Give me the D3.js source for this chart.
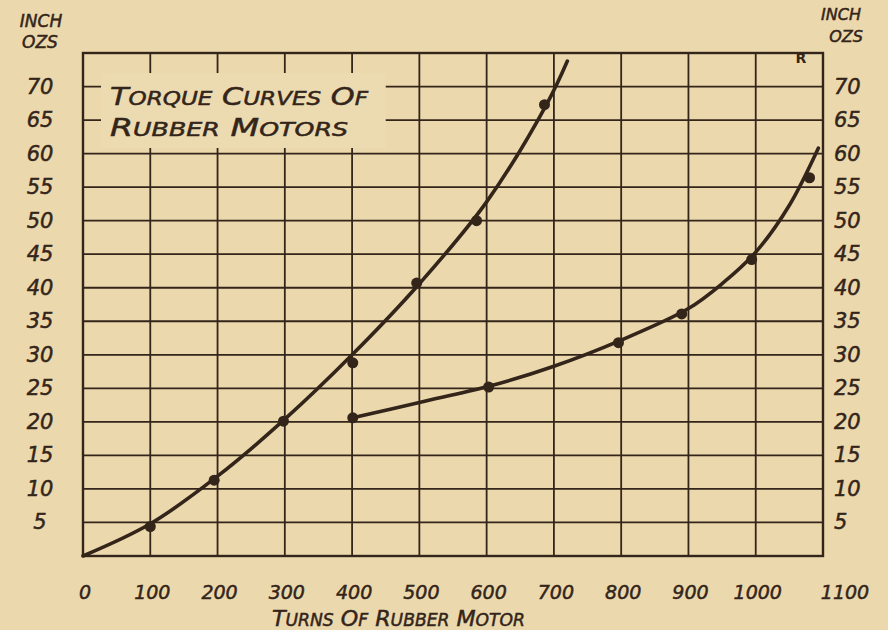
<!DOCTYPE html>
<html><head><meta charset="utf-8">
<script src="https://cdn.jsdelivr.net/npm/d3@7"></script>
<style>
html,body{margin:0;padding:0;background:#ecd8ad;}
svg{display:block;}
text{font-family:"DejaVu Sans",sans-serif;font-style:italic;fill:#33251a;stroke:#33251a;stroke-width:0.5px;}
</style></head>
<body>
<svg id="chart" width="888" height="630"></svg>
<script>
// ---- data ----
const xTicks = [0,100,200,300,400,500,600,700,800,900,1000,1100];
const yTickLabels = [5,10,15,20,25,30,35,40,45,50,55,60,65,70];
const yGrid = [0,5,10,15,20,25,30,35,40,45,50,55,60,65,70,75];
// curve A (left, steeper) measured dots and drawn curve
const curveADots = [[100,4.4],[195,11.3],[298,20.1],[401,28.8],[496,40.7],[585,50.0],[686,67.3]];
const curveALine = [[0,0],[100,4.8],[200,11.9],[300,20.4],[400,30.0],[500,40.6],[600,52.8],[690,67.5],[720,73.8]];
// curve B (right) measured dots and drawn curve
const curveBDots = [[401,20.6],[603,25.2],[796,31.8],[890,36.1],[994,44.2],[1080,56.4]];
const curveBLine = [[401,20.6],[500,22.9],[603,25.3],[700,28.3],[800,32.2],[900,36.9],[950,40.6],[1000,45.3],[1050,52.3],[1093,60.8]];

const svg = d3.select("#chart");
const ink = "#33251a";
const paper = "#ecd8ad";

svg.append("rect").attr("width",888).attr("height",630).attr("fill",paper);

const x = d3.scaleLinear().domain([0,1100]).range([83,823]);
const y = d3.scaleLinear().domain([0,75]).range([556,53]);

const g = svg.append("g");
g.selectAll("line.vx").data(xTicks).enter().append("line")
  .attr("x1",d=>x(d)).attr("x2",d=>x(d)).attr("y1",y(0)).attr("y2",y(75))
  .attr("stroke",ink).attr("stroke-width",1.8);
g.selectAll("line.hy").data(yGrid).enter().append("line")
  .attr("x1",x(0)).attr("x2",x(1100)).attr("y1",d=>y(d)).attr("y2",d=>y(d))
  .attr("stroke",ink).attr("stroke-width",1.8);
g.append("rect").attr("x",x(0)).attr("y",y(75)).attr("width",x(1100)-x(0)).attr("height",y(0)-y(75))
  .attr("fill","none").attr("stroke",ink).attr("stroke-width",2.4);

// title box (blank area)
svg.append("rect").attr("x",101).attr("y",73).attr("width",x(450)-101).attr("height",75)
  .attr("fill","#ecdab1");

function smallCaps(sel, words, big, small){
  words.forEach((w,i)=>{
    sel.append("tspan").attr("font-size",big).text((i>0?" ":"")+w[0]);
    sel.append("tspan").attr("font-size",small).text(w.slice(1));
  });
}
const t1 = svg.append("text").attr("x",110).attr("y",105).attr("textLength",258).attr("lengthAdjust","spacingAndGlyphs");
smallCaps(t1,["TORQUE","CURVES","OF"],25,19);
const t2 = svg.append("text").attr("x",110).attr("y",136).attr("textLength",238).attr("lengthAdjust","spacingAndGlyphs");
smallCaps(t2,["RUBBER","MOTORS"],25,19);
t2.selectAll("tspan").filter((d,i)=>i===2).text("  M");

// curves
const line = d3.line().x(d=>x(d[0])).y(d=>y(d[1])).curve(d3.curveCatmullRom.alpha(0.5));
svg.append("path").datum(curveALine).attr("d",line).attr("fill","none").attr("stroke",ink).attr("stroke-width",3.6).attr("stroke-linecap","round");
svg.append("path").datum(curveBLine).attr("d",line).attr("fill","none").attr("stroke",ink).attr("stroke-width",3.6).attr("stroke-linecap","round");
svg.selectAll("circle.a").data(curveADots.concat(curveBDots)).enter().append("circle")
  .attr("cx",d=>x(d[0])).attr("cy",d=>y(d[1])).attr("r",5.5).attr("fill",ink);

// y labels
svg.selectAll("text.yl").data(yTickLabels).enter().append("text")
  .attr("x",40).attr("y",d=>y(d)+7).attr("text-anchor","middle").attr("font-size",21)
  .text(d=>d);
svg.selectAll("text.yr").data(yTickLabels).enter().append("text")
  .attr("x",834).attr("y",d=>y(d)+7).attr("text-anchor","start").attr("font-size",21)
  .text(d=>d);
// x labels
svg.selectAll("text.xl").data(xTicks).enter().append("text")
  .attr("x",(d,i)=>x(d)+(i===xTicks.length-1?22:2)).attr("y",599).attr("text-anchor","middle").attr("font-size",19)
  .text(d=>d);

// axis unit labels
svg.append("text").attr("x",41).attr("y",27).attr("text-anchor","middle").attr("font-size",17).text("INCH");
svg.append("text").attr("x",40).attr("y",48).attr("text-anchor","middle").attr("font-size",17).text("OZS");
svg.append("text").attr("x",841).attr("y",20).attr("text-anchor","middle").attr("font-size",16).text("INCH");
svg.append("text").attr("x",846).attr("y",42).attr("text-anchor","middle").attr("font-size",16).text("OZS");

// x axis title
const xt = svg.append("text").attr("x",272).attr("y",626).attr("textLength",253).attr("lengthAdjust","spacingAndGlyphs");
smallCaps(xt,["TURNS","OF","RUBBER","MOTOR"],22,17);

// R mark
svg.append("text").attr("x",801).attr("y",63).attr("text-anchor","middle").attr("font-size",14)
  .style("font-style","normal").style("font-weight","bold").style("stroke-width","0px").text("R");
</script>
</body></html>
